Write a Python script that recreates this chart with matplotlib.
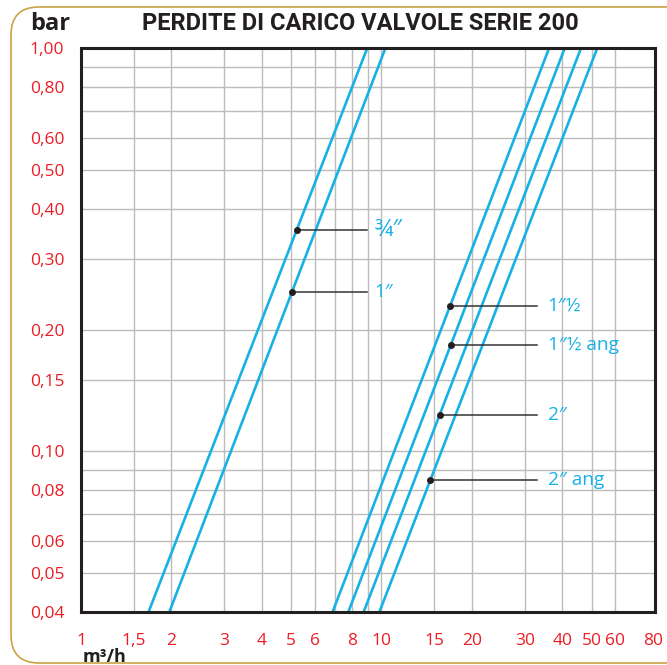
import numpy as np
import matplotlib
matplotlib.use('Agg')
import matplotlib.pyplot as plt
from matplotlib.patches import FancyBboxPatch
from matplotlib.ticker import FixedLocator, NullFormatter

# pressure drop lines, read at 0.04 bar and 1.00 bar
sizes = ['¾″', '1″', '1″½', '1″½ ang', '2″', '2″ ang']
q_low = [1.68, 1.97, 6.88, 7.76, 8.73, 9.85]
q_high = [8.96, 10.3, 36.1, 40.7, 46.1, 52.2]
dp_ends = [0.04, 1.00]

# where each label's marker sits on its line (bar)
label_dp = [0.354, 0.249, 0.23, 0.184, 0.123, 0.0847]
label_group = ['left', 'left', 'right', 'right', 'right', 'right']

x_ticks = [1, 1.5, 2, 3, 4, 5, 6, 8, 10, 15, 20, 30, 40, 50, 60, 80]
x_ticklabels = ['1', '1,5', '2', '3', '4', '5', '6', '8', '10', '15', '20', '30', '40', '50', '60', '80']
x_grid = [1.5, 2, 3, 4, 5, 6, 7, 8, 9, 10, 15, 20, 30, 40, 50, 60]
y_ticks = [0.04, 0.05, 0.06, 0.08, 0.10, 0.15, 0.20, 0.30, 0.40, 0.50, 0.60, 0.80, 1.00]
y_ticklabels = ['0,04', '0,05', '0,06', '0,08', '0,10', '0,15', '0,20', '0,30', '0,40', '0,50', '0,60', '0,80', '1,00']
y_grid = [0.05, 0.06, 0.07, 0.08, 0.09, 0.1, 0.15, 0.2, 0.3, 0.4, 0.5, 0.6, 0.7, 0.8, 0.9]

BLUE = '#17b1e6'
RED = '#ec1c24'
FONT = ['Open Sans', 'DejaVu Sans']

fig = plt.figure(figsize=(6.67, 6.65), dpi=100)
fig.patch.set_facecolor('white')

# rounded frame around the card
frame = FancyBboxPatch((0.0165, 0.003), 1.05, 0.9865,
                       boxstyle='round,pad=0,rounding_size=0.042',
                       transform=fig.transFigure, facecolor='none',
                       edgecolor='#c9a443', linewidth=1.2, zorder=0)
fig.patches.append(frame)

ax = fig.add_axes([0.1214, 0.0802, 0.8606, 0.8472])
ax.set_xscale('log')
ax.set_yscale('log')
ax.set_xlim(1, 81.3)
ax.set_ylim(0.04, 1.0)

ax.xaxis.set_major_locator(FixedLocator(x_ticks))
ax.xaxis.set_minor_locator(FixedLocator(x_grid))
ax.xaxis.set_minor_formatter(NullFormatter())
ax.set_xticklabels(x_ticklabels)
ax.yaxis.set_major_locator(FixedLocator(y_ticks))
ax.yaxis.set_minor_locator(FixedLocator(y_grid))
ax.yaxis.set_minor_formatter(NullFormatter())
ax.set_yticklabels(y_ticklabels)

ax.tick_params(which='both', length=0)
ax.tick_params(axis='y', pad=12, labelsize=12.5, labelcolor=RED)
ax.tick_params(axis='x', pad=15, labelsize=12.5, labelcolor=RED)
for lab in ax.get_xticklabels() + ax.get_yticklabels():
    lab.set_family(FONT)

ax.grid(False)
for v in x_grid:
    ax.axvline(v, color='#bcbcbc', lw=1.0, zorder=1)
for v in y_grid:
    ax.axhline(v, color='#bcbcbc', lw=1.0, zorder=1)

for s in ax.spines.values():
    s.set_color('#231f20')
    s.set_linewidth(2.2)
    s.set_zorder(5)

for i, name in enumerate(sizes):
    ax.plot([q_low[i], q_high[i]], dp_ends, color=BLUE, lw=1.9,
            solid_capstyle='butt', zorder=3)

    # point on the line at the label's pressure drop
    t = (np.log10(label_dp[i]) - np.log10(dp_ends[0])) / (np.log10(dp_ends[1]) - np.log10(dp_ends[0]))
    q = 10 ** (np.log10(q_low[i]) + t * (np.log10(q_high[i]) - np.log10(q_low[i])))
    if label_group[i] == 'left':
        x_end, x_txt = 8.98, 9.46
    else:
        x_end, x_txt = 32.8, 35.7
    ax.plot([q, x_end], [label_dp[i], label_dp[i]], color='#333333', lw=1.1, zorder=4)
    ax.plot(q, label_dp[i], 'o', color='#231f20', ms=4, zorder=6)
    fs = 17 if '¾' in name else 13.8   # the fraction glyph runs small
    ax.text(x_txt, label_dp[i], name, color=BLUE, fontsize=fs, family=FONT,
            ha='left', va='center', zorder=6)

fig.text(0.045, 0.955, 'bar', fontsize=17, fontweight='bold', color='#231f20',
         family=FONT, ha='left', va='baseline')
fig.text(0.541, 0.955, 'PERDITE DI CARICO VALVOLE SERIE 200', fontsize=17,
         fontweight='bold', color='#231f20',
         family=['Roboto', 'DejaVu Sans'], ha='center', va='baseline')
fig.text(0.124, 0.004, 'm³/h', fontsize=13, fontweight='bold', color='#231f20',
         family=FONT, ha='left', va='baseline')

fig.savefig('out.png', dpi=100)
